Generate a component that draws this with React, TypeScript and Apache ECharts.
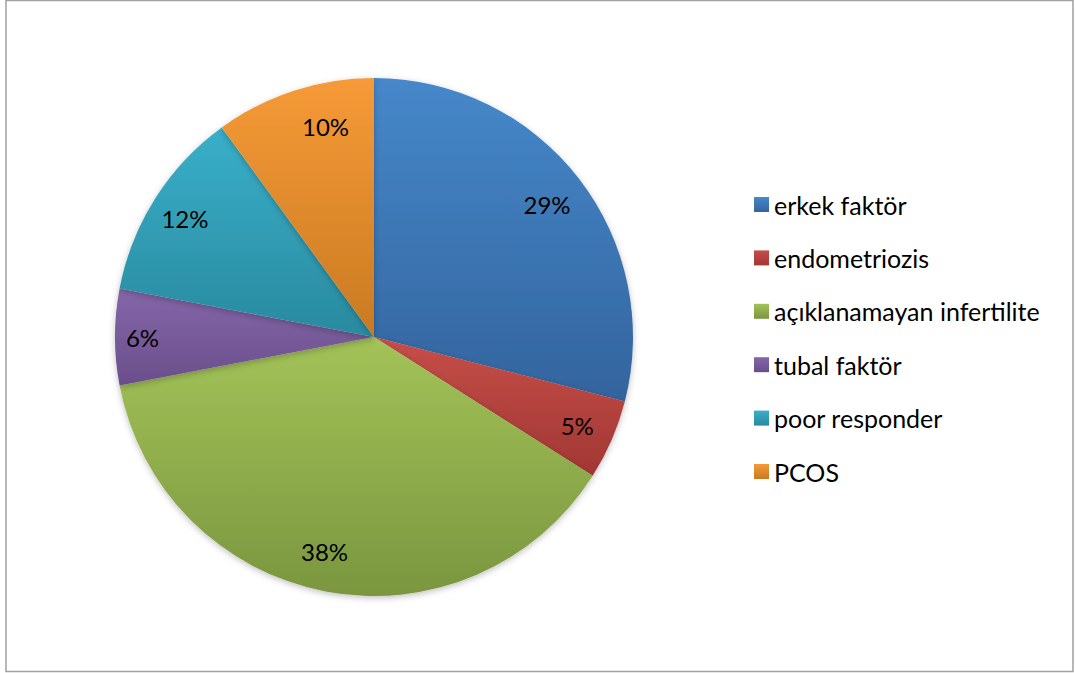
import React, { useEffect, useRef } from "react";
import * as echarts from "echarts";

const categories = ["erkek faktör", "endometriozis", "açıklanamayan infertilite", "tubal faktör", "poor responder", "PCOS"];
const values = [29, 5, 38, 6, 12, 10];
const topColors = ["#4688ca", "#c64e49", "#a3c358", "#8567a9", "#39afc9", "#f69a37"];
const bottomColors = ["#33649e", "#a13733", "#7a963f", "#6a4e8b", "#298a9f", "#c97a22"];
// small label nudges mimicking the spreadsheet's "best fit" placement
const labelNudges: [number, number][] = [[-2, 3], [0, 1], [-8, -3], [-10, 0], [-2, 0], [20, 0]];

export default function App() {
  const ref = useRef<HTMLDivElement>(null);
  useEffect(() => {
    document.body.style.margin = "0";
    const chart = echarts.init(ref.current!, null, { renderer: "svg" });
    const grad = (i: number) =>
      new echarts.graphic.LinearGradient(0, 0, 0, 1, [
        { offset: 0, color: topColors[i] },
        { offset: 1, color: bottomColors[i] },
      ]);
    const data = categories.map((name, i) => ({
      name,
      value: values[i],
      itemStyle: { color: grad(i) },
    }));
    const labelData = categories.map((name, i) => ({
      name,
      value: values[i],
      label: { offset: labelNudges[i] },
    }));
    chart.setOption({
      animation: false,
      backgroundColor: "#ffffff",
      graphic: [
        {
          type: "rect",
          shape: { x: 6, y: 0.5, width: 1067, height: 671 },
          style: { fill: "none", stroke: "#a0a0a0", lineWidth: 1.5 },
          silent: true,
        },
      ],
      legend: {
        orient: "vertical",
        left: 754,
        top: 192,
        padding: 0,
        itemWidth: 15,
        itemHeight: 15,
        itemGap: 28.4,
        icon: "rect",
        data: categories.map((name, i) => ({ name, itemStyle: { color: grad(i) } })),
        textStyle: { fontFamily: "Lato", fontSize: 25, color: "#000", lineHeight: 25 },
      },
      series: [
        {
          type: "pie",
          center: [374, 337],
          radius: [0, 259],
          startAngle: 90,
          clockwise: true,
          data,
          label: { show: false },
          labelLine: { show: false },
          itemStyle: { shadowBlur: 6, shadowColor: "rgba(0,0,0,0.25)", shadowOffsetY: 2 },
          emphasis: { disabled: true },
          silent: true,
        },
        {
          type: "pie",
          center: [374, 337],
          radius: [178, 259],
          startAngle: 90,
          clockwise: true,
          data: labelData,
          itemStyle: { color: "rgba(0,0,0,0)" },
          label: {
            show: true,
            position: "inside",
            formatter: (p: any) => `${p.value}%`,
            fontFamily: "Lato",
            fontSize: 24,
            color: "#000",
          },
          labelLine: { show: false },
          emphasis: { disabled: true },
          silent: true,
          legendHoverLink: false,
        },
      ],
    });
    return () => chart.dispose();
  }, []);
  return <div ref={ref} style={{ width: 1075, height: 673 }} />;
}
